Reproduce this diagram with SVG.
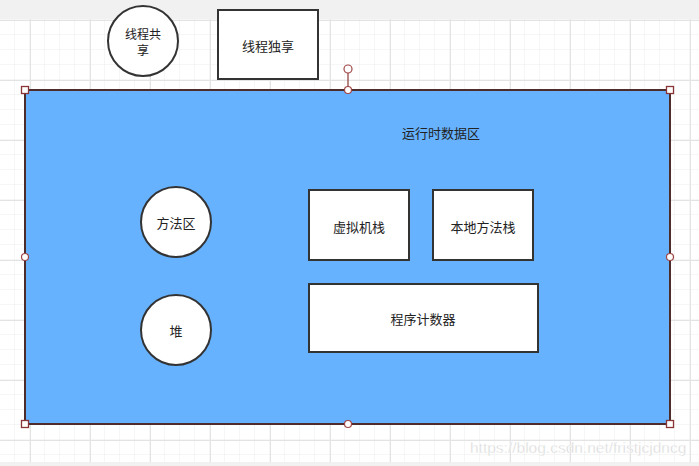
<svg xmlns="http://www.w3.org/2000/svg" width="699" height="466" viewBox="0 0 699 466">
<defs>
<pattern id="minor" width="15" height="15" patternUnits="userSpaceOnUse" x="0" y="5">
<path d="M15 0V15M0 15H15" fill="none" stroke="#ededed" stroke-width="1"/>
</pattern>
<pattern id="major" width="60" height="60" patternUnits="userSpaceOnUse" x="30" y="20">
<path d="M0.5 0V60M0 0.5H60" fill="none" stroke="#e3e3e3" stroke-width="1"/>
</pattern>
</defs>
<style>
.shape{fill:#fff;stroke:#333;stroke-width:2}
.lbl{font-family:"Noto Sans CJK SC","Liberation Sans",sans-serif;font-size:13px;fill:#222;text-anchor:middle;dominant-baseline:central}
.sm{font-size:12px}
.hsq{fill:#fff;stroke:#8a3535;stroke-width:1.3}
.hci{fill:#fff;stroke:#a04545;stroke-width:1.2}
</style>
<rect width="699" height="466" fill="#fff"/>
<rect width="699" height="466" fill="url(#minor)"/>
<rect width="699" height="466" fill="url(#major)"/>
<rect x="0" y="0" width="699" height="19" fill="#f1f1f1"/>
<rect x="0" y="462" width="699" height="4" fill="#f1f1f1"/>

<g id="runtime-area">
<rect x="25" y="90" width="645" height="334" fill="#66b2ff" stroke="#4f2c2c" stroke-width="2"/>
<text class="lbl" x="441" y="132">运行时数据区</text>
</g>

<g id="thread-shared">
<circle class="shape" cx="143" cy="41" r="35"/>
<text class="lbl sm" x="143" y="33">线程共</text>
<text class="lbl sm" x="143" y="49.5">享</text>
</g>

<g id="thread-private">
<rect class="shape" x="218" y="10" width="100" height="69"/>
<text class="lbl" x="268" y="45">线程独享</text>
</g>

<g id="method-area">
<circle class="shape" cx="176" cy="222" r="35"/>
<text class="lbl" x="176" y="222">方法区</text>
</g>

<g id="heap">
<circle class="shape" cx="176" cy="330" r="35"/>
<text class="lbl" x="176" y="330">堆</text>
</g>

<g id="vm-stack">
<rect class="shape" x="309" y="190" width="100" height="70"/>
<text class="lbl" x="359" y="226">虚拟机栈</text>
</g>

<g id="native-stack">
<rect class="shape" x="433" y="190" width="100" height="70"/>
<text class="lbl" x="483" y="226">本地方法栈</text>
</g>

<g id="pc-register">
<rect class="shape" x="309" y="284" width="229" height="68"/>
<text class="lbl" x="423" y="318">程序计数器</text>
</g>

<g id="connectors"></g>

<g id="selection-handles">
<line x1="348" y1="73" x2="348" y2="90" stroke="#8a3535" stroke-width="1.2"/>
<circle class="hci" cx="348" cy="69" r="4"/>
<rect class="hsq" x="21.5" y="86.5" width="7" height="7"/>
<rect class="hsq" x="666.5" y="86.5" width="7" height="7"/>
<rect class="hsq" x="21.5" y="420.5" width="7" height="7"/>
<rect class="hsq" x="666.5" y="420.5" width="7" height="7"/>
<circle class="hci" cx="348" cy="90" r="3.5"/>
<circle class="hci" cx="348" cy="424" r="3.5"/>
<circle class="hci" cx="25" cy="257" r="3.5"/>
<circle class="hci" cx="670" cy="257" r="3.5"/>
</g>

<text x="470" y="453" font-family="Liberation Sans, Arial, sans-serif" font-size="15.5" fill="#d6d6d6" stroke="#fff" stroke-width="0.4">https://blog.csdn.net/fristjcjdncg</text>
</svg>
